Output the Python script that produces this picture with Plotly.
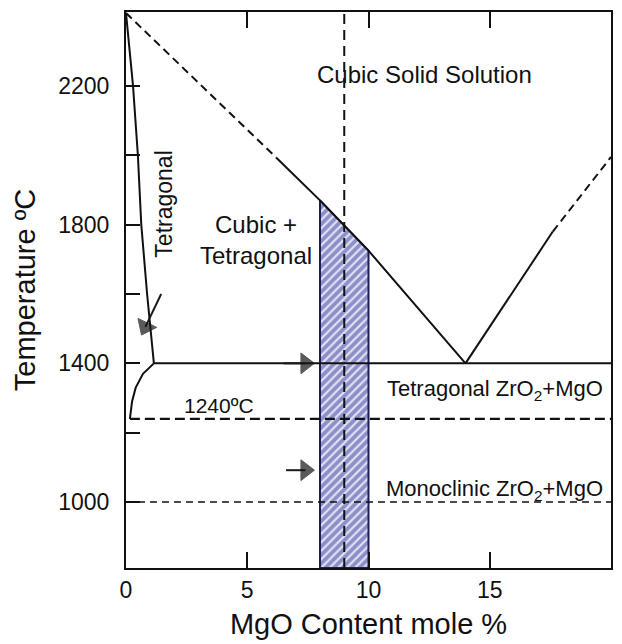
import plotly.graph_objects as go

# ---- data ----
liq_dash_x = [0.0, 6.2]
liq_dash_y = [2410, 1993]
liq_solid_x = [6.2, 8.0, 10.0, 14.0]
liq_solid_y = [1993, 1870, 1725, 1400]
right_solid_x = [14.0, 17.6]
right_solid_y = [1400, 1780]
right_dash_x = [17.6, 20.0]
right_dash_y = [1780, 1995]
solvus_x = [0.0, 0.29, 0.49, 0.63, 0.87, 1.15]
solvus_y = [2410, 2200, 2000, 1800, 1600, 1400]
low_curve_x = [0.16, 0.25, 0.4, 0.7, 1.15]
low_curve_y = [1240, 1290, 1330, 1370, 1400]
eutectoid_x = [1.15, 20.0]
eutectoid_y = [1400, 1400]
t1240_x = [0.16, 20.0]
t1240_y = [1240, 1240]
t1000_x = [0.0, 20.0]
t1000_y = [1000, 1000]
comp_x = [9.0, 9.0]
comp_y = [810, 2413]
hatch_x = [8.0, 8.0, 10.0, 10.0, 8.0]
hatch_y = [810, 1870, 1725, 810, 810]
arrow1_x = [6.5, 7.4]
arrow1_y = [1400, 1400]
arrow2_x = [6.6, 7.4]
arrow2_y = [1092, 1092]
arrow3_x = [1.45, 0.8]
arrow3_y = [1600, 1505]

x_ticks = [0, 5, 10, 15, 20]
x_ticktext = ["0", "5", "10", "15", "20"]
y_ticks = [1000, 1400, 1800, 2200]
y_ticktext = ["1000", "1400", "1800", "2200"]
y_minor_ticks = [1200, 1600, 2000]

FONT = "Arial, Liberation Sans, sans-serif"
BLACK = "#111111"

fig = go.Figure()

# hatched region
fig.add_trace(go.Scatter(
    x=hatch_x, y=hatch_y, mode="lines", fill="toself",
    fillcolor="rgba(0,0,0,0)",
    fillpattern=dict(shape="/", fgcolor="#363b9c", bgcolor="#e4e5f4", size=6, solidity=0.65),
    line=dict(color="#1b1e58", width=2), hoverinfo="skip"))

def line(x, y, width=2, dash="solid"):
    fig.add_trace(go.Scatter(x=x, y=y, mode="lines",
                             line=dict(color=BLACK, width=width, dash=dash),
                             hoverinfo="skip"))

line(liq_dash_x, liq_dash_y, 2, "8px,5px")
line(liq_solid_x, liq_solid_y, 2)
line(right_solid_x, right_solid_y, 2)
line(right_dash_x, right_dash_y, 2, "8px,5px")
line(solvus_x, solvus_y, 2)
line(low_curve_x, low_curve_y, 2)
line(eutectoid_x, eutectoid_y, 2)
line(t1240_x, t1240_y, 2.2, "10px,5px")
line(t1000_x, t1000_y, 1.5, "7px,5px")
line(comp_x, comp_y, 2, "10px,6px")

def arrow(x, y):
    fig.add_trace(go.Scatter(x=x, y=y, mode="lines+markers",
                             line=dict(color="#1a1a1a", width=2),
                             marker=dict(symbol="triangle-up", angleref="previous",
                                         size=[0, 18], color="#151515",
                                         line=dict(width=1, color="#151515")),
                             hoverinfo="skip"))

arrow(arrow1_x, arrow1_y)
arrow(arrow2_x, arrow2_y)
arrow(arrow3_x, arrow3_y)

annos = []
def text(x, y, s, size, angle=0):
    annos.append(dict(x=x, y=y, xref="x", yref="y", text=s, showarrow=False,
                      textangle=angle, font=dict(family=FONT, size=size, color=BLACK),
                      xanchor="center", yanchor="middle"))

text(12.3, 2232, "Cubic Solid Solution", 24)
text(5.38, 1756, "Cubic +<br>Tetragonal", 24)
text(1.56, 1860, "Tetragonal", 23, -90)
text(15.2, 1322, "Tetragonal ZrO<sub>2</sub>+MgO", 22)
text(15.2, 1034, "Monoclinic ZrO<sub>2</sub>+MgO", 22)
text(3.82, 1279, "1240ºC", 21)

fig.update_layout(
    width=622, height=644,
    margin=dict(l=126, r=9, t=12, b=76),
    paper_bgcolor="white", plot_bgcolor="white",
    showlegend=False,
    annotations=annos,
    font=dict(family=FONT, color=BLACK),
    xaxis=dict(range=[0, 20], tickvals=x_ticks, ticktext=x_ticktext,
               ticks="inside", ticklen=16, tickwidth=2, tickcolor=BLACK,
               showline=True, linewidth=2, linecolor=BLACK, mirror="ticks",
               showgrid=False, zeroline=False,
               tickfont=dict(family=FONT, size=23, color=BLACK),
               title=dict(text="MgO Content mole %", font=dict(family=FONT, size=29, color=BLACK), standoff=12)),
    yaxis=dict(range=[810, 2413], tickvals=y_ticks, ticktext=y_ticktext,
               ticks="inside", ticklen=14, tickwidth=2, tickcolor=BLACK,
               minor=dict(tickvals=y_minor_ticks, ticks="inside", ticklen=14,
                          tickwidth=2, tickcolor=BLACK, showgrid=False),
               showline=True, linewidth=2, linecolor=BLACK, mirror=True,
               showgrid=False, zeroline=False, ticklabelstandoff=10,
               tickfont=dict(family=FONT, size=23, color=BLACK),
               title=dict(text="Temperature ºC", font=dict(family=FONT, size=29, color=BLACK), standoff=14)),
)

fig.write_html("out.html")
